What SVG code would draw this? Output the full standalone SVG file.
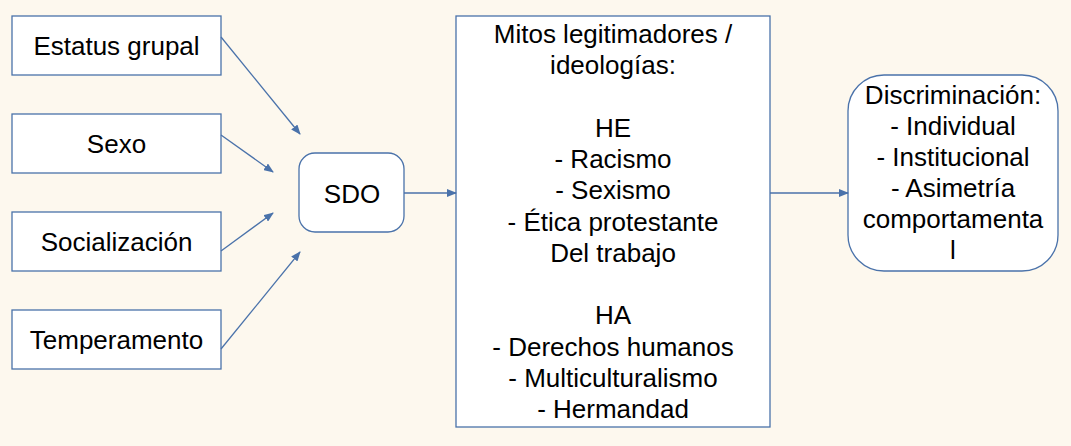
<svg xmlns="http://www.w3.org/2000/svg" width="1071" height="446" viewBox="0 0 1071 446">
<defs>
<marker id="ah" markerWidth="10" markerHeight="8" refX="9" refY="4" orient="auto" markerUnits="userSpaceOnUse">
<path d="M0,0 L10,4 L0,8 Z" fill="#4a72aa"/>
</marker>
<style>
.box{fill:#fff;stroke:#4a72aa;stroke-width:1.3}
.t{font-family:"Liberation Sans",Arial,sans-serif;font-size:26px;fill:#000;text-anchor:middle}
.c{stroke:#4a72aa;stroke-width:1.3;fill:none;marker-end:url(#ah)}
</style>
</defs>
<rect width="1071" height="446" fill="#fdf8ee"/>
<g id="estatus"><rect class="box" x="12" y="16" width="209" height="59"/><text class="t" x="116.5" y="55">Estatus grupal</text></g>
<g id="sexo"><rect class="box" x="12" y="114" width="209" height="59"/><text class="t" x="116.5" y="153">Sexo</text></g>
<g id="socializacion"><rect class="box" x="12" y="212" width="209" height="59"/><text class="t" x="116.5" y="251">Socialización</text></g>
<g id="temperamento"><rect class="box" x="12" y="310" width="209" height="59"/><text class="t" x="116.5" y="349">Temperamento</text></g>
<g id="sdo"><rect class="box" x="299" y="153" width="105" height="79" rx="16"/><text class="t" x="352" y="203">SDO</text></g>
<g id="mitos"><rect class="box" x="456" y="16" width="314" height="411"/>
<text class="t" x="613" y="43">Mitos legitimadores /</text>
<text class="t" x="613" y="74.25">ideologías:</text>
<text class="t" x="613" y="136.75">HE</text>
<text class="t" x="613" y="168">- Racismo</text>
<text class="t" x="613" y="199.25">- Sexismo</text>
<text class="t" x="613" y="230.5">- Ética protestante</text>
<text class="t" x="613" y="261.75">Del trabajo</text>
<text class="t" x="613" y="324.25">HA</text>
<text class="t" x="613" y="355.5">- Derechos humanos</text>
<text class="t" x="613" y="386.75">- Multiculturalismo</text>
<text class="t" x="613" y="418">- Hermandad</text>
</g>
<g id="discriminacion"><rect class="box" x="848" y="75" width="210" height="196" rx="36"/>
<text class="t" x="953" y="104">Discriminación:</text>
<text class="t" x="953" y="135">- Individual</text>
<text class="t" x="953" y="166">- Institucional</text>
<text class="t" x="953" y="197">- Asimetría</text>
<text class="t" x="953" y="228">comportamenta</text>
<text class="t" x="953" y="259">l</text>
</g>
<g id="connectors">
<line class="c" x1="221" y1="37" x2="300" y2="134"/>
<line class="c" x1="221" y1="135" x2="273" y2="172"/>
<line class="c" x1="221" y1="251" x2="273" y2="213"/>
<line class="c" x1="221" y1="349" x2="300" y2="252"/>
<line class="c" x1="404" y1="193" x2="456" y2="193"/>
<line class="c" x1="770" y1="193" x2="848" y2="193"/>
</g>
</svg>
